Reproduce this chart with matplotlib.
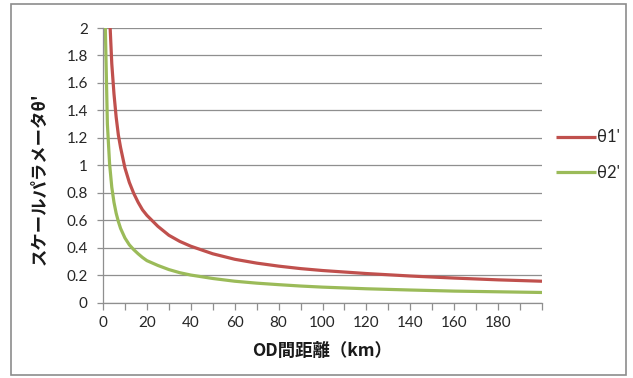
import matplotlib
matplotlib.use("Agg")
import matplotlib.pyplot as plt
from matplotlib.patches import Rectangle

# OD distance (km) and the two scale parameters
dist_km = [1, 2, 3, 4, 5, 6, 7, 8, 10, 12, 14, 16, 18, 20, 25, 30, 35, 40,
           50, 60, 70, 80, 90, 100, 120, 140, 160, 180, 200]
theta1 = [4.18, 2.70, 2.09, 1.74, 1.52, 1.35, 1.22, 1.13, 0.98, 0.875, 0.795,
          0.73, 0.675, 0.635, 0.555, 0.49, 0.445, 0.41, 0.355, 0.315, 0.287, 0.265,
          0.247, 0.233, 0.211, 0.193, 0.178, 0.165, 0.155]
theta2 = [2.05, 1.30, 1.01, 0.84, 0.73, 0.65, 0.59, 0.54, 0.47, 0.42, 0.385,
          0.355, 0.328, 0.305, 0.27, 0.24, 0.217, 0.20, 0.175, 0.155, 0.141,
          0.13, 0.12, 0.112, 0.10, 0.091, 0.083, 0.078, 0.073]
series_names = ["θ1'", "θ2'"]
x_ticklabels = [0, 20, 40, 60, 80, 100, 120, 140, 160, 180]
y_ticks = [0, 0.2, 0.4, 0.6, 0.8, 1, 1.2, 1.4, 1.6, 1.8, 2]

W, H = 633, 378
fig = plt.figure(figsize=(W / 100, H / 100), dpi=100)
fig.patch.set_facecolor("white")

# outer chart frame
fig.add_artist(Rectangle((11 / W, 1 - 375 / H), 615 / W, 371 / H,
                         transform=fig.transFigure, fill=False,
                         edgecolor="#8c8c8c", linewidth=1.2))

ax = fig.add_axes([103 / W, 1 - 302.5 / H, 439 / W, 274.5 / H])

grid_c = "#8f8f8f"
tick_font = ["Lato", "DejaVu Sans"]
cjk_font = ["Noto Sans CJK JP", "DejaVu Sans"]

ax.plot(dist_km, theta1, color="#c0504d", linewidth=2.3,
        solid_capstyle="butt", label=series_names[0])
ax.plot(dist_km, theta2, color="#9bbb59", linewidth=2.3,
        solid_capstyle="butt", label=series_names[1])

ax.set_xlim(0, 200)
ax.set_ylim(0, 2)
ax.set_yticks(y_ticks)
ax.set_yticklabels([f"{v:g}" for v in y_ticks], fontfamily=tick_font,
                   fontsize=11, color="#262626")
ax.set_xticks(list(range(0, 201, 10)), minor=False)
ax.set_xticklabels([str(v) if v in x_ticklabels else "" for v in range(0, 201, 10)],
                   fontfamily=tick_font, fontsize=11, color="#262626")

ax.grid(axis="y", color=grid_c, linewidth=0.9)
ax.set_axisbelow(True)
for s in ("top", "right"):
    ax.spines[s].set_visible(False)
for s in ("left", "bottom"):
    ax.spines[s].set_color(grid_c)
    ax.spines[s].set_linewidth(0.9)
ax.tick_params(axis="x", direction="out", length=5, width=0.9, color=grid_c, pad=5)
ax.tick_params(axis="y", direction="out", length=4, width=0.9, color=grid_c, pad=7)

ax.set_xlabel("OD間距離（km）", fontfamily=cjk_font, fontsize=12.5,
              fontweight="bold", color="#1a1a1a", labelpad=8)
ax.set_ylabel("スケールパラメータθ'", fontfamily=cjk_font, fontsize=12.5,
              fontweight="bold", color="#1a1a1a")
ax.yaxis.set_label_coords(-0.125, 0.45)

leg = fig.legend(loc="center left", bbox_to_anchor=(541 / W, 1 - 155 / H),
                 frameon=False, handlelength=2.4, handletextpad=0.05,
                 labelspacing=1.15, prop={"family": tick_font, "size": 12})
for t in leg.get_texts():
    t.set_color("#262626")

fig.savefig("out.png", dpi=100, facecolor="white")
